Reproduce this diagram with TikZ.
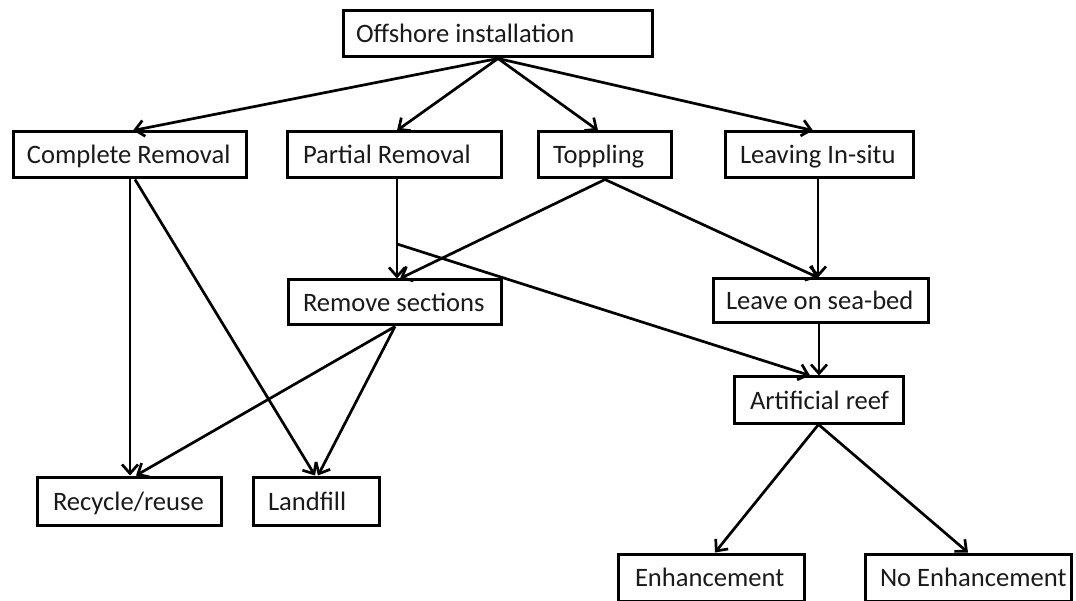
\documentclass[tikz,border=0pt]{standalone}
\usepackage{fontspec}
\setmainfont{Carlito}
\usetikzlibrary{arrows.meta}
\definecolor{ink}{HTML}{1A1A1A}
\newcommand{\lbox}[2]{\makebox[#1][l]{#2}}
\tikzset{
  box/.style={draw=black, line width=3pt, inner ysep=0pt, text=ink,
    text height=19pt, text depth=1pt,
    font=\fontsize{26.6}{30}\selectfont},
  arr/.style={draw=black, line width=2.7pt, -{Straight Barb[length=9pt,width=16pt,line width=2.7pt]}},
}
\begin{document}
\begin{tikzpicture}[x=1pt,y=-1pt]
\useasboundingbox (0,0) rectangle (1076,601);
\node[box, minimum height=46pt, inner xsep=13pt] (off) at (497.5,34) {\lbox{283pt}{Offshore installation}};
\node[box, minimum height=46pt, inner xsep=14pt] (cr) at (129.5,155) {\lbox{205pt}{Complete Removal}};
\node[box, minimum height=46pt, inner xsep=16pt] (pr) at (394,155) {\lbox{182pt}{Partial Removal}};
\node[box, minimum height=46pt, inner xsep=15pt] (top) at (604.5,155) {\lbox{103pt}{Toppling}};
\node[box, minimum height=46pt, inner xsep=15pt] (lis) at (819,155) {\lbox{158pt}{Leaving In-situ}};
\node[box, minimum height=45pt, inner xsep=15pt] (rs) at (394.5,302.5) {\lbox{183pt}{Remove sections}};
\node[box, minimum height=44pt, inner xsep=13pt] (ls) at (820.5,301) {\lbox{189pt}{Leave on sea-bed}};
\node[box, minimum height=46pt, inner xsep=16pt] (ar) at (818.5,400) {\lbox{137pt}{Artificial reef}};
\node[box, minimum height=48pt, inner xsep=16pt] (rr) at (129,501) {\lbox{152pt}{Recycle/reuse}};
\node[box, minimum height=48pt, inner xsep=15pt] (lf) at (316,501) {\lbox{96pt}{Landfill}};
\node[box, minimum height=47pt, inner xsep=17pt] (en) at (711,577.5) {\lbox{152pt}{Enhancement}};
\node[box, minimum height=47pt, inner xsep=15pt] (ne) at (968,577.5) {\lbox{176pt}{No Enhancement}};
\coordinate (br) at (397,244);
% connectors
\draw[arr] ([xshift=0.5pt]off.south) -- ([xshift=3.5pt]cr.north);
\draw[arr] ([xshift=0.5pt]off.south) -- ([xshift=3pt]pr.north);
\draw[arr] ([xshift=0.5pt]off.south) -- ([xshift=-6.5pt]top.north);
\draw[arr] ([xshift=0.5pt]off.south) -- ([xshift=-6pt]lis.north);
\draw[arr] ([xshift=0.5pt]cr.south) -- ([xshift=1pt]rr.north);
\draw[arr] ([xshift=5.5pt]cr.south) -- ([xshift=-1pt]lf.north);
\draw[arr] ([xshift=0.5pt]rs.south) -- ([xshift=7pt]rr.north);
\draw[arr] ([xshift=0.5pt]rs.south) -- ([xshift=2pt]lf.north);
\draw[arr] ([xshift=3pt]pr.south) -- ([xshift=2.5pt]rs.north);
\draw[arr] (br) -- ([xshift=-8.5pt]ar.north);
\draw[arr] ([xshift=0.5pt]top.south) -- ([xshift=5.5pt]rs.north);
\draw[arr] ([xshift=0.5pt]top.south) -- ([xshift=-2.5pt]ls.north);
\draw[arr] ([xshift=-1pt]lis.south) -- ([xshift=-2.5pt]ls.north);
\draw[arr] ([xshift=-1.5pt]ls.south) -- ([xshift=0.5pt]ar.north);
\draw[arr] (ar.south) -- ([xshift=4pt]en.north);
\draw[arr] (ar.south) -- (ne.north);
\end{tikzpicture}
\end{document}
